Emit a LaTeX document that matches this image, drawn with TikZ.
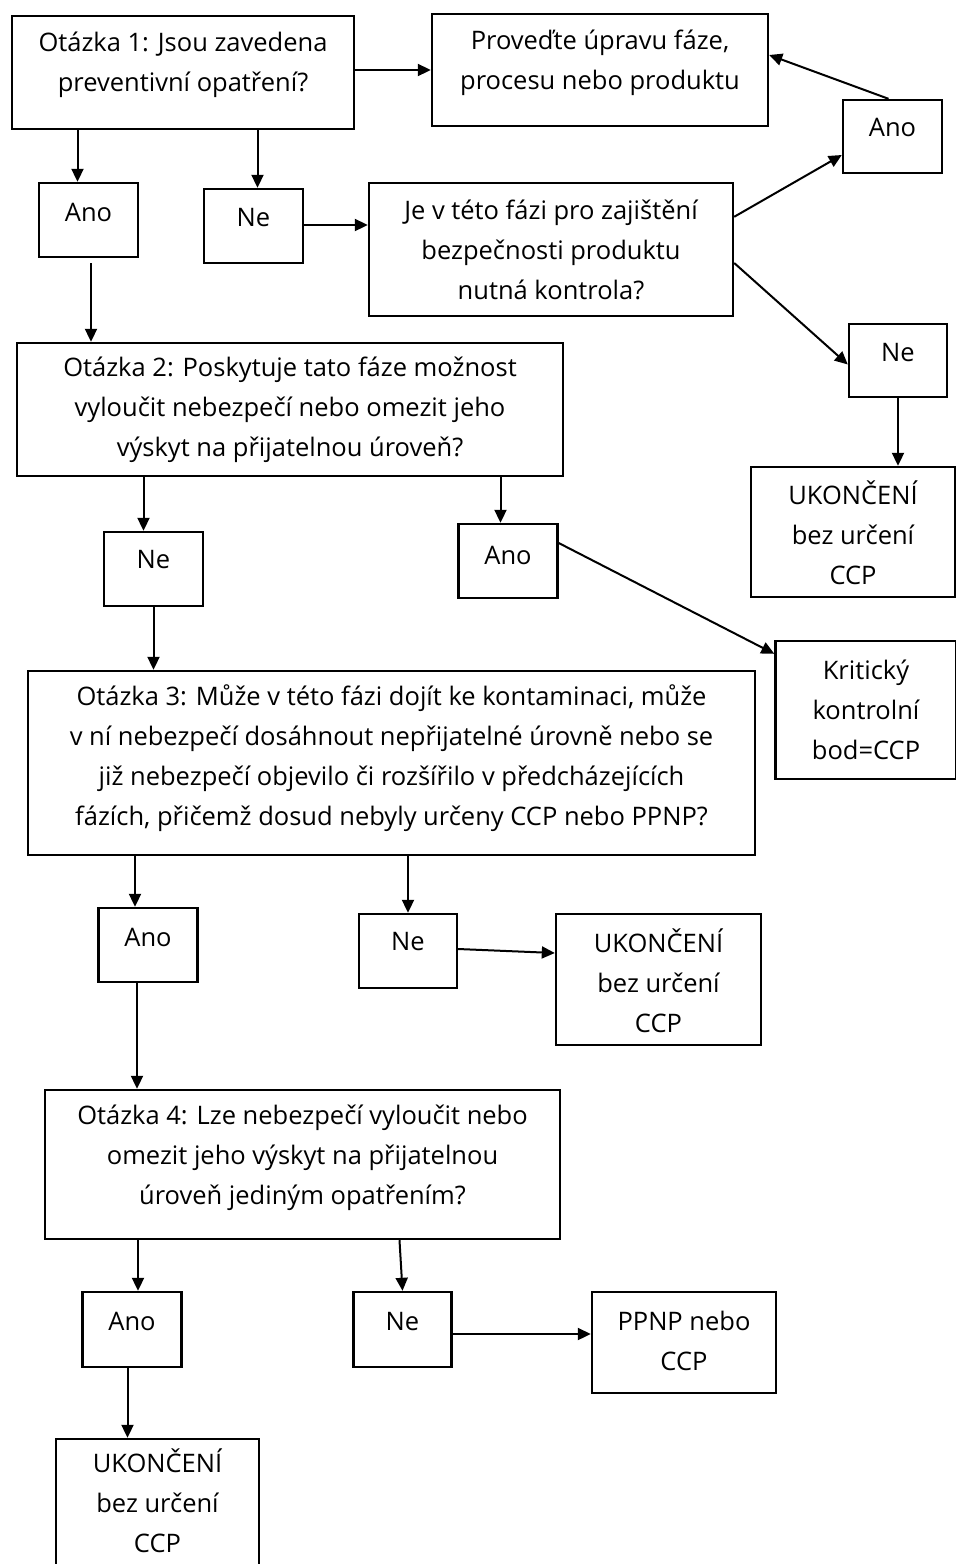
\documentclass[tikz,border=0pt]{standalone}
\usepackage{fontspec}
\setmainfont{Open Sans}
\usetikzlibrary{arrows.meta}

\tikzset{
    box/.style={draw, line width=2.4pt, inner sep=0pt},
    txt/.style={align=center, inner sep=0pt, font=\fontsize{25.5}{40}\selectfont},
    arr/.style={line width=2pt, -{Triangle[length=13pt,width=12pt]}}
}

\begin{document}
\begin{tikzpicture}[x=1pt, y=-1pt]
    \useasboundingbox (0,0) rectangle (956,1564);
    \node[box, minimum width=342, minimum height=113, label={[txt,yshift=8]center:{Otázka 1: Jsou zavedena\\preventivní opatření?}}] (q1) at (183,72.5) {};
    \node[box, minimum width=336, minimum height=112, label={[txt,yshift=7]center:{Proveďte úpravu fáze,\\procesu nebo produktu}}] (fix) at (600,70) {};
    \node[box, minimum width=99, minimum height=73, label={[txt,yshift=9]center:Ano}] (ano0) at (892.5,136.5) {};
    \node[box, minimum width=99, minimum height=74, label={[txt,yshift=8]center:Ano}] (a1) at (88.5,220) {};
    \node[box, minimum width=99, minimum height=74, label={[txt,yshift=8]center:Ne}] (n1) at (253.5,226) {};
    \node[box, minimum width=364, minimum height=133, label={[txt]center:{Je v této fázi pro zajištění\\bezpečnosti produktu\\nutná kontrola?}}] (ctrl) at (551,249.5) {};
    \node[box, minimum width=98, minimum height=73, label={[txt,yshift=8]center:Ne}] (n1b) at (898,360.5) {};
    \node[box, minimum width=204, minimum height=130, label={[txt,yshift=-1]center:{UKONČENÍ\\bez určení\\CCP}}] (end1) at (853,532) {};
    \node[box, minimum width=546, minimum height=133, label={[txt]center:{Otázka 2: Poskytuje tato fáze možnost\\vyloučit nebezpečí nebo omezit jeho\\výskyt na přijatelnou úroveň?}}] (q2) at (290,409.5) {};
    \node[box, minimum width=99, minimum height=74, label={[txt,yshift=9]center:Ne}] (ne2) at (153.5,569) {};
    \node[box, minimum width=99, minimum height=74, label={[txt,yshift=6]center:Ano}] (ano2) at (508,561) {};
    \node[box, minimum width=181, minimum height=138, label={[txt]center:{Kritický\\kontrolní\\bod=CCP}}] (crit) at (866,710) {};
    \node[box, minimum width=727, minimum height=184, label={[txt,yshift=5]center:{Otázka 3: Může v této fázi dojít ke kontaminaci, může\\v ní nebezpečí dosáhnout nepřijatelné úrovně nebo se\\již nebezpečí objevilo či rozšířilo v předcházejících\\fázích, přičemž dosud nebyly určeny CCP nebo PPNP?}}] (q3) at (391.5,763) {};
    \node[box, minimum width=99, minimum height=74, label={[txt,yshift=8]center:Ano}] (ano3) at (148,945) {};
    \node[box, minimum width=98, minimum height=74, label={[txt,yshift=9]center:Ne}] (ne3) at (408,951) {};
    \node[box, minimum width=205, minimum height=131, label={[txt,yshift=-1]center:{UKONČENÍ\\bez určení\\CCP}}] (end2) at (658.5,979.5) {};
    \node[box, minimum width=515, minimum height=149, label={[txt,yshift=6.5]center:{Otázka 4: Lze nebezpečí vyloučit nebo\\omezit jeho výskyt na přijatelnou\\úroveň jediným opatřením?}}] (q4) at (302.5,1164.5) {};
    \node[box, minimum width=99, minimum height=75, label={[txt,yshift=8]center:Ano}] (ano4) at (132,1329.5) {};
    \node[box, minimum width=98, minimum height=75, label={[txt,yshift=8]center:Ne}] (ne4) at (402.5,1329.5) {};
    \node[box, minimum width=184, minimum height=101, label={[txt,yshift=2]center:{PPNP nebo\\CCP}}] (ppnp) at (684,1342.5) {};
    \node[box, minimum width=203, minimum height=128, label={[txt,yshift=2]center:{UKONČENÍ\\bez určení\\CCP}}] (end3) at (157.5,1503) {};

    \draw[arr] (q1.east |- fix.west) -- (fix.west);
    \draw[arr] ([xshift=-11]a1.north |- q1.south) -- ([xshift=-11]a1.north);
    \draw[arr] ([xshift=4]n1.north |- q1.south) -- ([xshift=4]n1.north);
    \draw[arr] ([yshift=1]n1.east) -- ([yshift=1]n1.east -| ctrl.west);
    \draw[arr] ([yshift=-35]ctrl.north east) -- ([yshift=-18.5]ano0.west);
    \draw[arr] ([xshift=-4]ano0.north) -- ([yshift=15]fix.east);
    \draw[arr] ([yshift=-13.5]ctrl.east) -- ([yshift=-4]n1b.west);
    \draw[arr] (n1b.south) -- (n1b.south |- end1.north);
    \draw[arr, shorten <=5pt] ([xshift=2.5]a1.south) -- ([xshift=2.5]a1.south |- q2.north);
    \draw[arr] ([xshift=-10]ne2.north |- q2.south) -- ([xshift=-10]ne2.north);
    \draw[arr] ([xshift=-7.5]ano2.north |- q2.south) -- ([xshift=-7.5]ano2.north);
    \draw[arr] ([yshift=18]ano2.east) -- ([yshift=-14]crit.north west);
    \draw[arr] (ne2.south) -- (ne2.south |- q3.north);
    \draw[arr] ([xshift=-13]ano3.north |- q3.south) -- ([xshift=-13]ano3.north);
    \draw[arr] (ne3.north |- q3.south) -- (ne3.north);
    \draw[arr] ([yshift=2]ne3.east) -- ([yshift=26.5]end2.west);
    \draw[arr] ([xshift=-11]ano3.south) -- ([xshift=-11]ano3.south |- q4.north);
    \draw[arr] ([xshift=6]ano4.north |- q4.south) -- ([xshift=6]ano4.north);
    \draw[arr] ([xshift=-3]ne4.north |- q4.south) -- (ne4.north);
    \draw[arr] ([yshift=-4.5]ne4.east) -- ([yshift=-4.5]ne4.east -| ppnp.west);
    \draw[arr] ([xshift=-4.5]ano4.south) -- ([xshift=-4.5]ano4.south |- end3.north);
\end{tikzpicture}
\end{document}
